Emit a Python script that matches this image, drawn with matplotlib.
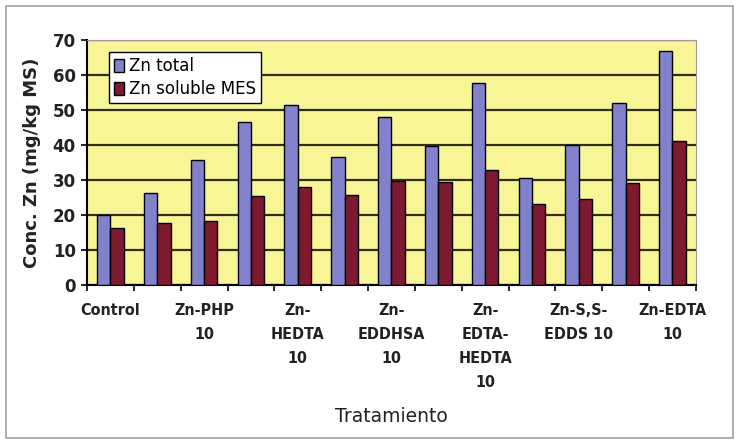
import matplotlib.pyplot as plt
import numpy as np
from matplotlib.patches import Rectangle

# values (mg/kg MS)
tick_labels = ["Control", "", "Zn-PHP\n10", "", "Zn-\nHEDTA\n10", "",
               "Zn-\nEDDHSA\n10", "", "Zn-\nEDTA-\nHEDTA\n10", "",
               "Zn-S,S-\nEDDS 10", "", "Zn-EDTA\n10"]
zn_total = [20, 26.3, 35.6, 46.6, 51.4, 36.5, 48.1, 39.6, 57.8, 30.5, 40, 52, 66.9]
zn_soluble = [16.2, 17.7, 18.2, 25.3, 28.0, 25.6, 29.8, 29.5, 32.9, 23.1, 24.5, 29.2, 41.2]

fig = plt.figure(figsize=(7.39, 4.43), dpi=100)
ax = fig.add_axes([0.1177, 0.3567, 0.824, 0.553])

x = np.arange(len(tick_labels))
w = 0.285
ax.bar(x - w / 2, zn_total, w, color="#8282CC", edgecolor="black", linewidth=1.0,
       label="Zn total", zorder=3)
ax.bar(x + w / 2, zn_soluble, w, color="#7E1A30", edgecolor="black", linewidth=1.0,
       label="Zn soluble MES", zorder=3)

ax.set_facecolor("#F8F597")
ax.set_xlim(-0.5, len(tick_labels) - 0.5)
ax.set_ylim(0, 70)
ax.set_yticks(range(0, 71, 10))
ax.yaxis.grid(True, color="#2E2E1A", linewidth=1.6, zorder=1)
ax.set_axisbelow(True)

# category ticks at group boundaries, labels at group centres
ax.set_xticks(np.arange(-0.5, len(tick_labels)), minor=False)
ax.set_xticklabels([])
ax.set_xticks(x, minor=True)
ax.set_xticklabels(tick_labels, minor=True, fontsize=11.5, fontweight="bold",
                   fontstretch="condensed", color="#222222", linespacing=1.75)
ax.tick_params(axis="x", which="minor", length=0, pad=13)
ax.tick_params(axis="x", which="major", length=4, width=1.2, direction="out")
ax.tick_params(axis="y", length=4, width=1.2, labelsize=12, pad=4)
for lab in ax.get_yticklabels():
    lab.set_fontweight("bold")
    lab.set_color("#222222")

ax.spines["left"].set_linewidth(1.5)
ax.spines["bottom"].set_linewidth(1.5)
ax.spines["top"].set_color("#9A9A9A")
ax.spines["right"].set_color("#9A9A9A")

ax.set_ylabel("Conc. Zn (mg/kg MS)", fontsize=13, fontweight="bold", color="#222222")
ax.yaxis.set_label_coords(-0.075, 0.5)
ax.set_xlabel("Tratamiento", fontsize=13.5, color="#222222", labelpad=12)

leg = ax.legend(loc="upper left", bbox_to_anchor=(0.036, 0.95), fontsize=12,
                frameon=True, fancybox=False, handlelength=0.6, handleheight=0.9,
                handletextpad=0.3, borderpad=0.3, labelspacing=0.3, borderaxespad=0)
leg.get_frame().set_edgecolor("black")
leg.get_frame().set_linewidth(1.0)
leg.get_frame().set_facecolor("white")
leg.get_frame().set_alpha(1)

# light frame around the whole chart
fig.patches.append(Rectangle((0.008, 0.012), 0.984, 0.975, transform=fig.transFigure,
                             fill=False, edgecolor="#A0A0A0", linewidth=1.2))

fig.savefig("out.png", dpi=100)
